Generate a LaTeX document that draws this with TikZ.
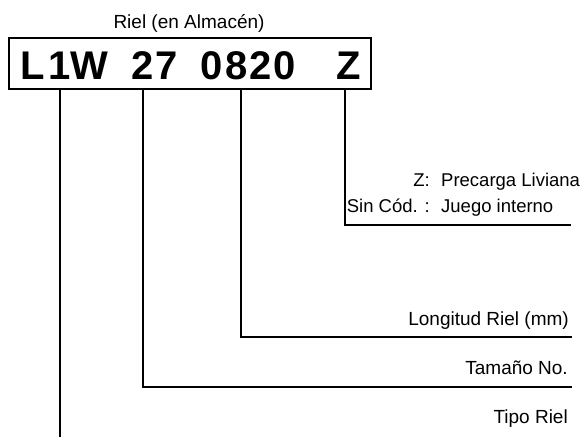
\documentclass[tikz,border=0pt]{standalone}
\usepackage{fontspec}
\setmainfont{Liberation Sans}
\begin{document}
\begin{tikzpicture}[x=1pt,y=-1pt,
  lbl/.style={inner sep=0pt,font=\fontsize{19}{23}\selectfont},
  lbls/.style={inner sep=0pt,font=\fontsize{18.5}{22}\selectfont},
  ch/.style={inner sep=0pt,anchor=base,font=\fontsize{40}{44}\selectfont\bfseries},
  conn/.style={line width=1.4pt,line cap=rect}]
\useasboundingbox (0,0) rectangle (583,436);
\node[draw,line width=1.3pt,minimum width=362pt,minimum height=51pt,inner sep=0pt] (box) at (190,63.5) {};
\node[lbl,anchor=base] (title) at (189,29) {Riel (en Almacén)};
% code characters
\node[ch] (cL) at (33,79) {L};
\node[ch] (c1) at (60,79) {1};
\node[ch] (cW) at (89.5,79) {W};
\node[ch] (c2) at (142.5,79) {2};
\node[ch] (c7) at (166.5,79) {7};
\node[ch] (d0) at (212,79) {0};
\node[ch] (d8) at (237,79) {8};
\node[ch] (d2) at (261,79) {2};
\node[ch] (d0b) at (285,79) {0};
\node[ch] (cZ) at (349,79) {Z};
% connector anchors on box bottom
\coordinate (pL) at (60,89);
\coordinate (p27) at (143,89);
\coordinate (p0820) at (241,89);
\coordinate (pZ) at (345,89);
\coordinate (eL) at (60,436);
\coordinate (e27) at (571,387);
\coordinate (e0820) at (571,337);
\coordinate (eZ) at (570,225);
\draw[conn] (pL) -- (eL);
\draw[conn] (p27) |- (e27);
\draw[conn] (p0820) |- (e0820);
\draw[conn] (pZ) |- (eZ);
% labels
\node[lbls,anchor=base east] (zk) at (430,186) {Z:};
\node[lbls,anchor=base west] (zv) at (441,186) {Precarga Liviana};
\node[lbls,anchor=base east] (sk) at (430,212) {Sin Cód. :};
\node[lbls,anchor=base west] (sv) at (441,212) {Juego interno};
\node[lbl,anchor=base east] (lon) at (569,325) {Longitud Riel (mm)};
\node[lbl,anchor=base east] (tam) at (568,374) {Tamaño No.};
\node[lbl,anchor=base east] (tip) at (568,423) {Tipo Riel};
\end{tikzpicture}
\end{document}
